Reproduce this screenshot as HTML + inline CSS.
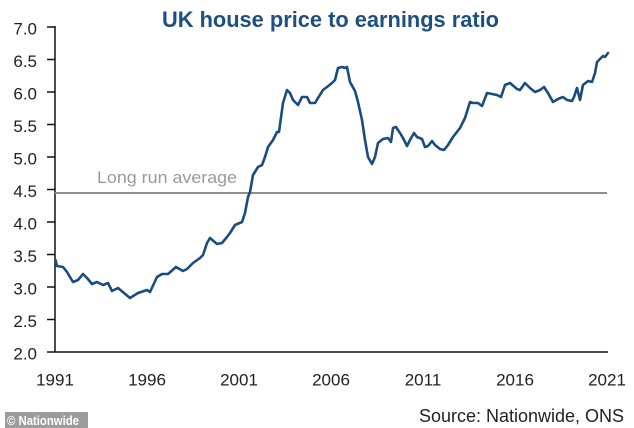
<!DOCTYPE html>
<html><head><meta charset="utf-8"><style>
html,body{margin:0;padding:0;background:#fff;}
svg{display:block;}
</style></head><body>
<svg width="634" height="428" viewBox="0 0 634 428" xmlns="http://www.w3.org/2000/svg">
<rect width="634" height="428" fill="#fff"/>
<text x="162" y="27" font-family="Liberation Sans, sans-serif" font-weight="bold" font-size="22" fill="#1d4f82" textLength="337" lengthAdjust="spacingAndGlyphs">UK house price to earnings ratio</text>
<g font-family="Liberation Sans, sans-serif" font-size="17" fill="#222" text-anchor="end">
<text x="37" y="34.5">7.0</text>
<text x="37" y="67">6.5</text>
<text x="37" y="99.5">6.0</text>
<text x="37" y="132">5.5</text>
<text x="37" y="164.5">5.0</text>
<text x="37" y="197">4.5</text>
<text x="37" y="229.5">4.0</text>
<text x="37" y="262">3.5</text>
<text x="37" y="294.5">3.0</text>
<text x="37" y="327">2.5</text>
<text x="37" y="359.5">2.0</text>
</g>
<g stroke="#111" stroke-width="1.5">
<line x1="55" y1="26" x2="55" y2="352.5"/>
<line x1="55" y1="352" x2="608" y2="352"/>
<line x1="47" y1="27" x2="55" y2="27"/>
<line x1="47" y1="59.5" x2="55" y2="59.5"/>
<line x1="47" y1="92" x2="55" y2="92"/>
<line x1="47" y1="124.5" x2="55" y2="124.5"/>
<line x1="47" y1="157" x2="55" y2="157"/>
<line x1="47" y1="189.5" x2="55" y2="189.5"/>
<line x1="47" y1="222" x2="55" y2="222"/>
<line x1="47" y1="254.5" x2="55" y2="254.5"/>
<line x1="47" y1="287" x2="55" y2="287"/>
<line x1="47" y1="319.5" x2="55" y2="319.5"/>
<line x1="47" y1="352" x2="55" y2="352"/>
</g>
<g font-family="Liberation Sans, sans-serif" font-size="17" fill="#222" text-anchor="middle">
<text x="55" y="385.5">1991</text>
<text x="147" y="385.5">1996</text>
<text x="239" y="385.5">2001</text>
<text x="331" y="385.5">2006</text>
<text x="423" y="385.5">2011</text>
<text x="515" y="385.5">2016</text>
<text x="607" y="385.5">2021</text>
</g>
<line x1="55" y1="193" x2="607" y2="193" stroke="#8e8e8e" stroke-width="2"/>
<text x="97" y="183" font-family="Liberation Sans, sans-serif" font-size="17" fill="#9a9a9a" textLength="140" lengthAdjust="spacingAndGlyphs">Long run average</text>
<polyline fill="none" stroke="#1b4c7f" stroke-width="2.6" stroke-linejoin="round" stroke-linecap="round" points="
55.5,260 57,266 63,267 67,272 73,282 78,280 83,274 87,278 92,284 97,282 103,285 108,283 112,291 118,288 124,293 130,298 138,293 147,290 150,292 157,277 162,274 168,274 176,267 183,271 187,269 193,263 200,258 203,255 207,243 210,238 217,244 222,243 227,237 230,233 235,225 242,222 245,213 248,197 250,192 253,175 258,167 262,165 265,157 268,147 273,140 277,132 279,132 283,103 287,90 290,93 293,100 298,105 302,97 307,97 310,103 315,103 318,98 323,90 327,87 332,83 335,80 338,68 342,67 345,68 347,67 350,82 355,91 358,102 362,120 365,140 368,157 372,164 375,157 378,143 383,139 388,138 391,142 393,128 396,127 400,133 403,138 407,146 410,140 414,133 417,137 422,139 425,147 428,146 432,141 435,145 440,149 444,150 448,145 453,137 460,128 465,118 470,102 473,103 478,103 482,106 487,93 492,94 497,95 501,97 505,85 510,83 517,89 520,90 525,83 530,88 535,92 540,90 544,87 548,93 553,102 558,99 563,97 567,100 572,101 574,97 577,88 580,100 583,85 588,81 592,82 595,73 597,62 600,59 603,56 605,57 608,53"/>
<text x="419" y="422" font-family="Liberation Sans, sans-serif" font-size="18" fill="#222" textLength="205" lengthAdjust="spacingAndGlyphs">Source: Nationwide, ONS</text>
<rect x="5" y="412" width="83" height="16" fill="#9c9c9c"/>
<text x="7" y="425" font-family="Liberation Sans, sans-serif" font-weight="bold" font-size="12.5" fill="#fff" textLength="72" lengthAdjust="spacingAndGlyphs">© Nationwide</text>
</svg>
</body></html>
